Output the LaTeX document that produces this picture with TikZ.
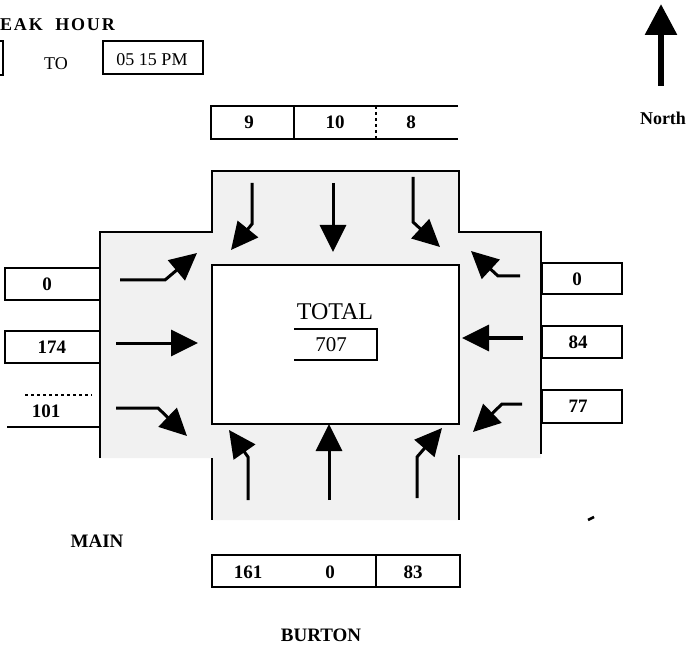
\documentclass[tikz,border=0pt]{standalone}
\usepackage{fontspec}
\setmainfont{Liberation Serif}
\usetikzlibrary{arrows.meta}
\begin{document}
\begin{tikzpicture}[x=1pt,y=-1pt,
  flow/.style={line width=3pt,-{Triangle[length=27pt,width=26pt]}},
  border/.style={line width=1.3pt},
  cbox/.style={line width=1.1pt},
  num/.style={inner sep=0pt,font=\bfseries\fontsize{19}{19}\selectfont},
  lbl/.style={inner sep=0pt,font=\bfseries\fontsize{19}{19}\selectfont}]
\useasboundingbox (0,0) rectangle (694,655);
% shaded cross
\fill[gray!11] (100,232) -- (212,232) -- (212,171) -- (459,171) -- (459,232) -- (541,232)
  -- (541,458) -- (459,458) -- (459,520) -- (212,520) -- (212,458) -- (100,458) -- cycle;
% borders
\draw[border] (100,458) -- (100,232) -- (212,232) -- (212,171) -- (459,171) -- (459,232) -- (541,232) -- (541,454);
\draw[border] (212,458) -- (212,520);
\draw[border] (459,455) -- (459,520);
% inner box
\draw[border,fill=white] (212,265) rectangle (459,424);
\node[inner sep=0pt,font=\fontsize{24}{24}\selectfont] (total) at (335,312) {TOTAL};
\draw[cbox] (294,329) -- (377,329) -- (377,360) -- (294,360);
\node[inner sep=0pt,font=\fontsize{21}{21}\selectfont] (tot) at (331,345) {707};
% top counts
\draw[cbox] (458,106) -- (211,106) -- (211,139) -- (458,139);
\draw[cbox] (294,106) -- (294,139);
\draw[cbox,dashed] (376,106) -- (376,139);
\node[num] (t1) at (249,122) {9};
\node[num] (t2) at (335,122) {10};
\node[num] (t3) at (411,122) {8};
% bottom counts
\draw[cbox] (212,555) rectangle (460,587);
\draw[cbox] (376,555) -- (376,587);
\node[num] (b1) at (248,572) {161};
\node[num] (b2) at (330,572) {0};
\node[num] (b3) at (413,572) {83};
% left counts
\draw[cbox] (5,268) rectangle (100,300);
\draw[cbox] (5,331) rectangle (100,363);
\draw[cbox,dashed] (25,395) -- (92,395);
\draw[cbox] (7,427) -- (100,427);
\node[num] (l1) at (47,284) {0};
\node[num] (l2) at (52,347) {174};
\node[num] (l3) at (46,411) {101};
% right counts
\draw[cbox] (542,263) rectangle (622,294);
\draw[cbox] (542,326) rectangle (622,358);
\draw[cbox] (542,390) rectangle (622,423);
\node[num] (r1) at (577,279) {0};
\node[num] (r2) at (578,342) {84};
\node[num] (r3) at (578,406) {77};
% arrows: from north (top)
\coordinate (n1s) at (252,183); \coordinate (n1b) at (252,224); \coordinate (n1t) at (231,250);
\coordinate (n2s) at (333,183); \coordinate (n2t) at (333,252);
\coordinate (n3s) at (413,177); \coordinate (n3b) at (413,222); \coordinate (n3t) at (440,247);
\draw[flow] (n1s) -- (n1b) -- (n1t);
\draw[flow] (n2s) -- (n2t);
\draw[flow] (n3s) -- (n3b) -- (n3t);
% from west
\coordinate (w1s) at (120,280); \coordinate (w1b) at (165,280); \coordinate (w1t) at (197,253);
\coordinate (w2s) at (116,343); \coordinate (w2t) at (198,343);
\coordinate (w3s) at (116,408); \coordinate (w3b) at (158,408); \coordinate (w3t) at (187,436);
\draw[flow] (w1s) -- (w1b) -- (w1t);
\draw[flow] (w2s) -- (w2t);
\draw[flow] (w3s) -- (w3b) -- (w3t);
% from east
\coordinate (e1s) at (520,276); \coordinate (e1b) at (498,276); \coordinate (e1t) at (471,251);
\coordinate (e2s) at (523,338); \coordinate (e2t) at (462,338);
\coordinate (e3s) at (522,404); \coordinate (e3b) at (502,404); \coordinate (e3t) at (473,432);
\draw[flow] (e1s) -- (e1b) -- (e1t);
\draw[flow] (e2s) -- (e2t);
\draw[flow] (e3s) -- (e3b) -- (e3t);
% from south
\coordinate (s1s) at (248,500); \coordinate (s1b) at (248,457); \coordinate (s1t) at (229,430);
\coordinate (s2s) at (329,500); \coordinate (s2t) at (329,424);
\coordinate (s3s) at (417,498); \coordinate (s3b) at (417,457); \coordinate (s3t) at (442,428);
\draw[flow] (s1s) -- (s1b) -- (s1t);
\draw[flow] (s2s) -- (s2t);
\draw[flow] (s3s) -- (s3b) -- (s3t);
% header
\node[inner sep=0pt,anchor=west,font=\bfseries\fontsize{18}{18}\selectfont\addfontfeature{LetterSpace=10}] (peak) at (0,25) {EAK\ \ HOUR};
\draw[cbox] (0,41) -- (3,41) -- (3,75) -- (0,75);
\node[inner sep=0pt,font=\fontsize{18}{18}\selectfont] (to) at (56,64) {TO};
\draw[cbox] (103,41) rectangle (203,74);
\node[inner sep=0pt,font=\fontsize{18}{18}\selectfont] (time) at (152,60) {05 15 PM};
% north arrow
\coordinate (ns) at (661,86); \coordinate (nt) at (661,4);
\draw[line width=6pt,-{Triangle[length=31pt,width=31pt]}] (ns) -- (nt);
\node[inner sep=0pt,font=\bfseries\fontsize{18}{18}\selectfont] (north) at (663,118) {North};
% street names
\node[lbl] (main) at (97,541) {MAIN};
\node[lbl] (burton) at (321,635) {BURTON};
\coordinate (m1) at (588,520); \coordinate (m2) at (594,517);
\draw[line width=2.5pt] (m1) -- (m2);
\end{tikzpicture}
\end{document}
